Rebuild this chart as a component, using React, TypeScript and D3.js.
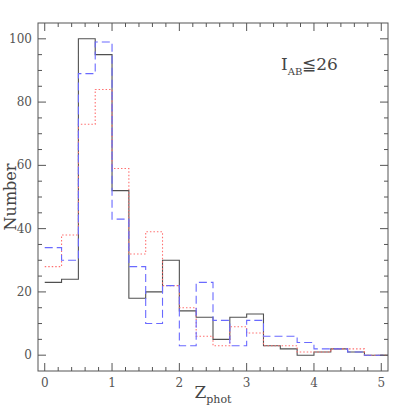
import React, { useEffect, useRef } from 'react';
import * as d3 from 'd3';

// bin edges every 0.25 in z, from 0 to 5 (plus one empty bin clipped at the frame)
const binStarts = d3.range(0, 5.25, 0.25);
const solidCounts = [23, 24, 100, 95, 52, 18, 20, 30, 14, 12, 5, 12, 13, 3, 2, 0, 1, 2, 1, 0, 0];
const dottedCounts = [28, 38, 73, 84, 59, 32, 39, 22, 15, 6, 3, 9, 7, 3, 3, 1, 1, 2, 2, 0, 0];
const dashedCounts = [34, 30, 89, 99, 43, 28, 10, 22, 3, 23, 11, 3, 11, 6, 6, 4, 2, 2, 1, 0, 0];
const xTicks = [0, 1, 2, 3, 4, 5];
const yTicks = [0, 20, 40, 60, 80, 100];

const W = 409;
const H = 409;
const margin = { top: 23, right: 21, bottom: 38, left: 38 };
const axisColor = '#555';

const App = () => {
  const ref = useRef<SVGSVGElement | null>(null);

  useEffect(() => {
    const svg = d3.select(ref.current);
    svg.selectAll('*').remove();

    const x = d3.scaleLinear().domain([-0.1, 5.1]).range([margin.left, W - margin.right]);
    const y = d3.scaleLinear().domain([-5, 105]).range([H - margin.bottom, margin.top]);
    const [x0, x1] = x.range();
    const [y0, y1] = y.range();

    svg.append('clipPath').attr('id', 'plotclip')
      .append('rect').attr('x', x0).attr('y', y1).attr('width', x1 - x0).attr('height', y0 - y1);

    const step = d3.line<[number, number]>()
      .x((d) => x(d[0]))
      .y((d) => y(d[1]))
      .curve(d3.curveStepAfter);

    const toPts = (vals: number[]): [number, number][] => {
      const pts: [number, number][] = binStarts.map((s, i) => [s, vals[i]]);
      pts.push([binStarts[binStarts.length - 1] + 0.25, vals[vals.length - 1]]);
      return pts;
    };

    const g = svg.append('g').attr('clip-path', 'url(#plotclip)');
    g.append('path').attr('d', step(toPts(solidCounts)))
      .attr('fill', 'none').attr('stroke', '#505050').attr('stroke-width', 1.1);
    g.append('path').attr('d', step(toPts(dottedCounts)))
      .attr('fill', 'none').attr('stroke', '#ff7070').attr('stroke-width', 1.1)
      .attr('stroke-dasharray', '1.5,2');
    g.append('path').attr('d', step(toPts(dashedCounts)))
      .attr('fill', 'none').attr('stroke', '#6a6aff').attr('stroke-width', 1.1)
      .attr('stroke-dasharray', '8,4');

    // frame
    svg.append('rect').attr('x', x0).attr('y', y1).attr('width', x1 - x0).attr('height', y0 - y1)
      .attr('fill', 'none').attr('stroke', axisColor).attr('stroke-width', 1);

    // ticks on all four sides
    const tk = svg.append('g').attr('stroke', axisColor).attr('stroke-width', 1);
    d3.range(0, 5.01, 0.2).forEach((v) => {
      const major = Math.abs(v - Math.round(v)) < 1e-6;
      const len = major ? 8 : 4;
      const px = x(v);
      tk.append('line').attr('x1', px).attr('x2', px).attr('y1', y0).attr('y2', y0 - len);
      tk.append('line').attr('x1', px).attr('x2', px).attr('y1', y1).attr('y2', y1 + len);
    });
    d3.range(0, 101, 5).forEach((v) => {
      const len = v % 20 === 0 ? 8 : 4;
      const py = y(v);
      tk.append('line').attr('x1', x0).attr('x2', x0 + len).attr('y1', py).attr('y2', py);
      tk.append('line').attr('x1', x1).attr('x2', x1 - len).attr('y1', py).attr('y2', py);
    });

    const font = '"DejaVu Serif", serif';
    svg.selectAll('.xl').data(xTicks).enter().append('text')
      .attr('x', (d) => x(d)).attr('y', y0 + 16)
      .attr('text-anchor', 'middle')
      .style('font-family', font).style('font-size', '12px').style('fill', '#555')
      .text((d) => d);
    svg.selectAll('.yl').data(yTicks).enter().append('text')
      .attr('x', x0 - 6).attr('y', (d) => y(d) + 4)
      .attr('text-anchor', 'end')
      .style('font-family', font).style('font-size', '12px').style('fill', '#555')
      .text((d) => d);

    // axis titles
    svg.append('text')
      .attr('transform', `translate(16,${(y0 + y1) / 2}) rotate(-90)`)
      .attr('text-anchor', 'middle')
      .style('font-family', font).style('font-size', '16px').style('fill', '#444')
      .text('Number');

    const xt = svg.append('text')
      .attr('x', (x0 + x1) / 2).attr('y', 398)
      .attr('text-anchor', 'middle')
      .style('font-family', font).style('fill', '#444');
    xt.append('tspan').style('font-size', '17px').text('Z');
    xt.append('tspan').attr('dy', 5).style('font-size', '11px').text('phot');

    const ann = svg.append('text')
      .attr('x', 281).attr('y', 70)
      .style('font-family', font).style('fill', '#444');
    ann.append('tspan').style('font-size', '17px').text('I');
    ann.append('tspan').attr('dy', 5).style('font-size', '10px').text('AB');
    ann.append('tspan').attr('dy', -5).style('font-size', '17px').text('≦26');
  }, []);

  return (
    <svg ref={ref} width={W} height={H}
      style={{ position: 'absolute', left: 0, top: 0, background: '#fff' }} />
  );
};

export default App;
